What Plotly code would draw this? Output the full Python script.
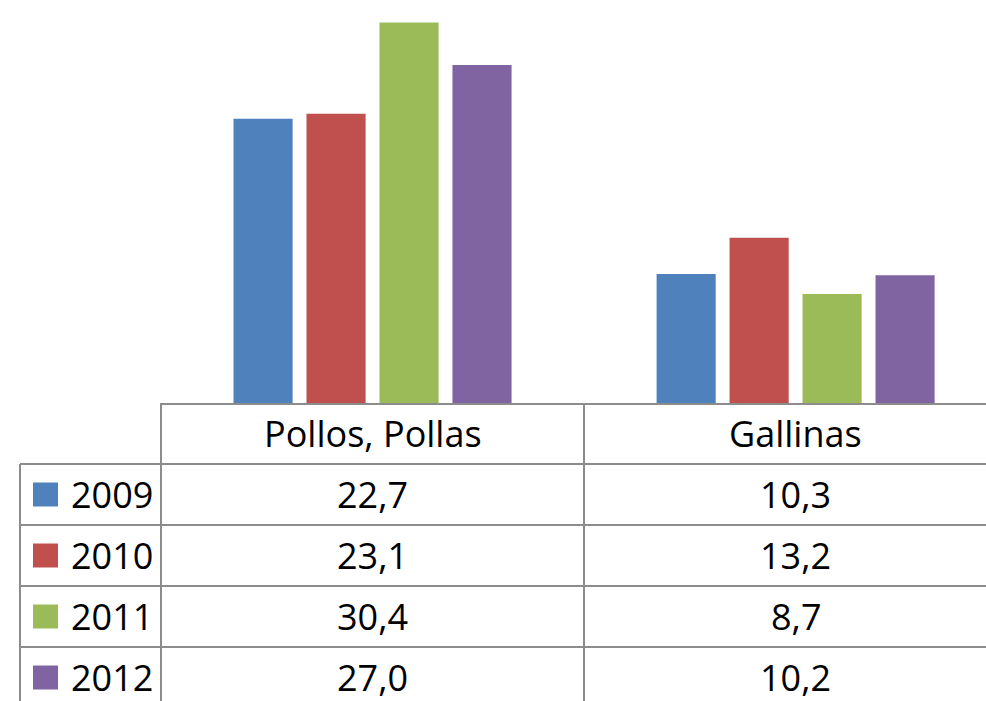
import plotly.graph_objects as go

# Datos
categorias = ['Pollos, Pollas', 'Gallinas']
anios = ['2009', '2010', '2011', '2012']
valores_2009 = [22.7, 10.3]
valores_2010 = [23.1, 13.2]
valores_2011 = [30.4, 8.7]
valores_2012 = [27.0, 10.2]
colores = ['#4F81BD', '#C0504D', '#9BBB59', '#8064A2']

series = [valores_2009, valores_2010, valores_2011, valores_2012]

W, H = 986, 701
FONT = 'Open Sans'
LINEA = dict(color='#8c8c8c', width=2)


def px_x(x):
    return x / W


def px_y(y):
    return 1 - y / H


def fmt(v):
    # Formato con coma decimal
    return f'{v:.1f}'.replace('.', ',')


fig = go.Figure()

for anio, vals, col in zip(anios, series, colores):
    fig.add_trace(go.Bar(x=categorias, y=vals, name=anio, marker=dict(color=col, line=dict(width=0))))

# Tabla de datos bajo el grafico
base = 403
fila = 61
x_izq, x_col1, x_col2 = 20, 161, 584

shapes = []
# lineas horizontales de las filas
for i in range(1, 5):
    y = base + i * fila
    shapes.append(dict(type='line', xref='paper', yref='paper', x0=px_x(x_izq), x1=1,
                       y0=px_y(y), y1=px_y(y), line=LINEA))
# lineas verticales
shapes.append(dict(type='line', xref='paper', yref='paper', x0=px_x(x_izq), x1=px_x(x_izq),
                   y0=px_y(base + fila), y1=0, line=LINEA))
for xv in [x_col1, x_col2]:
    shapes.append(dict(type='line', xref='paper', yref='paper', x0=px_x(xv), x1=px_x(xv),
                       y0=px_y(base), y1=0, line=LINEA))

annotations = []
# encabezados
for i, cat in enumerate(categorias):
    annotations.append(dict(x=i, xref='x', y=px_y(base + fila / 2), yref='paper', text=cat,
                            showarrow=False, xanchor='center', yanchor='middle',
                            font=dict(family=FONT, size=36, color='black')))

for r, (anio, vals, col) in enumerate(zip(anios, series, colores)):
    yc = base + fila * (r + 1) + fila / 2
    # cuadro de leyenda
    shapes.append(dict(type='rect', xref='paper', yref='paper', x0=px_x(33), x1=px_x(58),
                       y0=px_y(yc - 12), y1=px_y(yc + 12), fillcolor=col, line=dict(width=0)))
    annotations.append(dict(x=px_x(112), xref='paper', y=px_y(yc), yref='paper', text=anio,
                            showarrow=False, xanchor='center', yanchor='middle',
                            font=dict(family=FONT, size=36, color='black')))
    for i, v in enumerate(vals):
        annotations.append(dict(x=i, xref='x', y=px_y(yc), yref='paper', text=fmt(v),
                                showarrow=False, xanchor='center', yanchor='middle',
                                font=dict(family=FONT, size=36, color='black')))

fig.update_layout(
    width=W, height=H,
    margin=dict(l=0, r=0, t=0, b=0),
    plot_bgcolor='white', paper_bgcolor='white',
    showlegend=False,
    barmode='group', bargap=0.31, bargroupgap=0.19,
    xaxis=dict(domain=[px_x(x_col1), 1], range=[-0.5, 1.45], showticklabels=False,
               showgrid=False, zeroline=False, showline=True, linecolor='#8c8c8c', linewidth=2,
               ticks=''),
    yaxis=dict(domain=[px_y(base), 1], range=[0, base / 12.52], visible=False,
               showgrid=False),
    shapes=shapes,
    annotations=annotations,
)

# quitar el margen por defecto del body para que la figura ocupe toda la ventana
fig.write_html('out.html', config={'displayModeBar': False},
               post_script="document.body.style.margin='0';document.body.style.overflow='hidden';")
